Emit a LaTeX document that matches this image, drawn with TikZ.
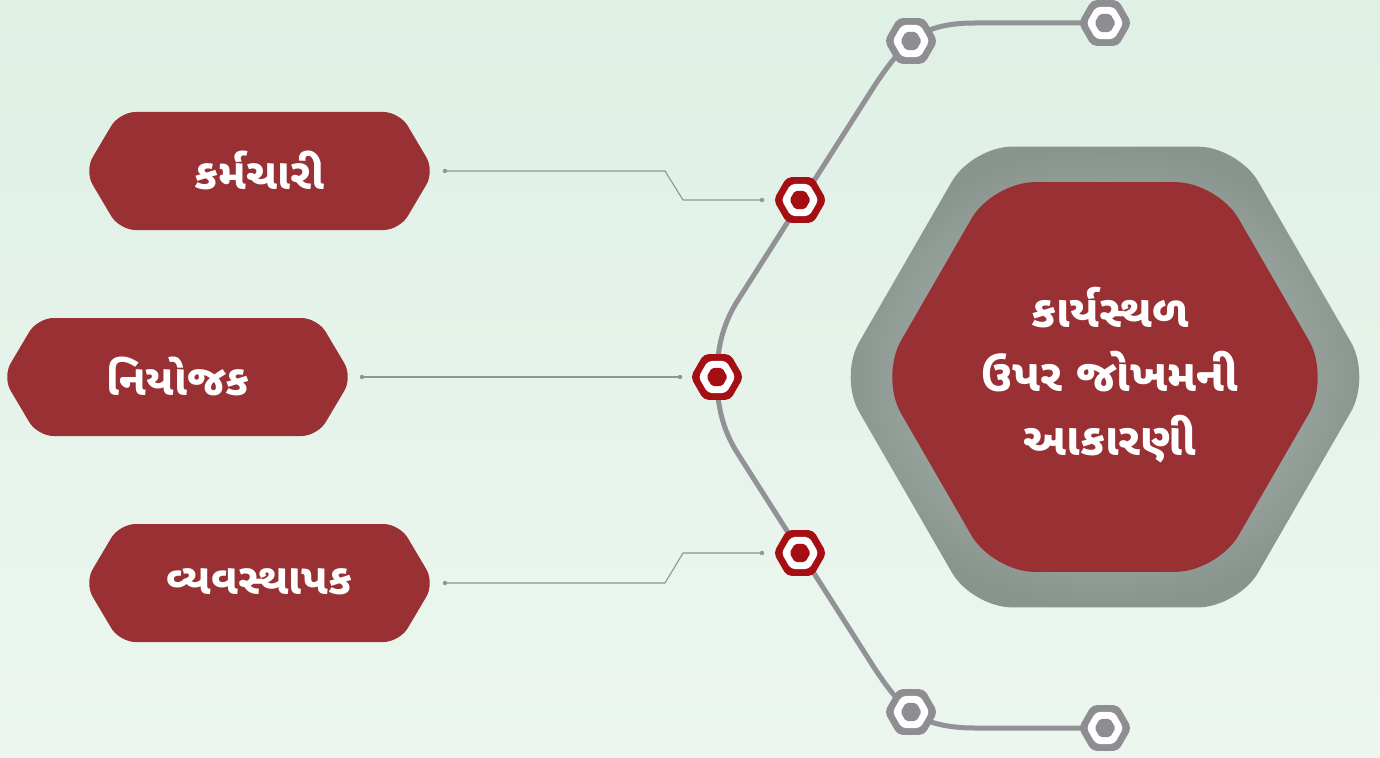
\documentclass[tikz,border=0pt]{standalone}
\usepackage{fontspec}
\newfontfamily\guj[Script=Gujarati]{Noto Sans Gujarati UI}
\usetikzlibrary{shapes.geometric}
\definecolor{bgtop}{RGB}{223,240,229}
\definecolor{bgbot}{RGB}{236,246,239}
\definecolor{boxred}{RGB}{153,48,51}
\definecolor{hexred}{RGB}{165,15,20}
\definecolor{hexgray}{RGB}{142,141,146}
\definecolor{linegray}{RGB}{145,145,150}
\definecolor{thingray}{RGB}{140,150,146}
\definecolor{biginner}{RGB}{190,200,194}
\definecolor{bigouter}{RGB}{138,148,142}
\tikzset{
  hexbase/.style={regular polygon, regular polygon sides=6, inner sep=0pt, draw=none},
  boxtext/.style={text=white, font=\guj\bfseries\fontsize{43}{48}\selectfont},
  bigtext/.style={text=white, align=center, font=\guj\bfseries\fontsize{45}{64}\selectfont},
  thinline/.style={draw=thingray, line width=1.1pt},
  mainline/.style={draw=linegray, line width=5pt},
}
\newcommand\leftbox[4]{%
  \fill[boxred, rounded corners=16pt] (#2,#3-59) -- (#2+140,#3-59) -- (#2+175,#3) -- (#2+140,#3+59) -- (#2-140,#3+59) -- (#2-175,#3) -- (#2-140,#3-59) -- cycle;
  \node[boxtext] (#1) at (#2,#3-1) {#4};
}
\newcommand\smallhex[4]{%
  \node[hexbase, fill=#4, minimum size=53pt, rounded corners=5pt] (#1) at (#2,#3) {};
  \node[hexbase, fill=white, minimum size=37pt, rounded corners=4pt] (#1w) at (#2,#3) {};
  \node[hexbase, fill=#4, minimum size=21pt, rounded corners=2pt] (#1c) at (#2,#3) {};
}
\begin{document}
\begin{tikzpicture}[x=1pt,y=-1pt]
\useasboundingbox (0,0) rectangle (1380,757);
\fill[top color=bgtop, bottom color=bgbot] (0,0) rectangle (1380,757);

% big hexagon
\node[hexbase, minimum size=532pt, rounded corners=40pt, inner color=biginner, outer color=bigouter] (bigout) at (1105,377) {};
\node[hexbase, minimum size=450pt, rounded corners=42pt, fill=boxred] (bigin) at (1105,377) {};
\node[bigtext] (bigtxt) at (1110,375) {કાર્યસ્થળ\\ઉપર જોખમની\\આકારણી};

% hexagon positions
\coordinate (gtr) at (1105,23);
\coordinate (gtl) at (911,41);
\coordinate (gbl) at (911,712);
\coordinate (gbr) at (1105,728);
\coordinate (rtop) at (800,200);
\coordinate (rmid) at (717,377);
\coordinate (rbot) at (800,553);

% main line
\draw[mainline] (gtr) -- (975,23) .. controls (945,23) and (925,29) .. (gtl)
  .. controls (897,53) and (885,70) .. (875,85) -- (738,300)
  .. controls (722,325) and (717,350) .. (rmid)
  .. controls (717,404) and (722,429) .. (738,454) -- (875,669)
  .. controls (885,684) and (897,701) .. (gbl)
  .. controls (925,722) and (945,728) .. (975,728) -- (gbr);

% left boxes
\leftbox{b1}{259.5}{171}{કર્મચારી}
\leftbox{b2}{177.5}{377}{નિયોજક}
\leftbox{b3}{259.5}{583}{વ્યવસ્થાપક}

% thin connectors
\coordinate (c1s) at (445,171); \coordinate (c1e) at (762,200);
\coordinate (c2s) at (362,377); \coordinate (c2e) at (680,377);
\coordinate (c3s) at (445,583); \coordinate (c3e) at (762,553);
\draw[thinline] (c1s) -- (665,171) -- (683,200) -- (c1e);
\draw[thinline] (c2s) -- (c2e);
\draw[thinline] (c3s) -- (665,583) -- (683,553) -- (c3e);
\foreach \p in {c1s,c1e,c2s,c2e,c3s,c3e} \fill[thingray] (\p) circle (2.2);

% small hexagons
\smallhex{h1}{1105}{23}{hexgray}
\smallhex{h2}{911}{41}{hexgray}
\smallhex{h3}{911}{712}{hexgray}
\smallhex{h4}{1105}{728}{hexgray}
\smallhex{h5}{800}{200}{hexred}
\smallhex{h6}{717}{377}{hexred}
\smallhex{h7}{800}{553}{hexred}
\end{tikzpicture}
\end{document}
